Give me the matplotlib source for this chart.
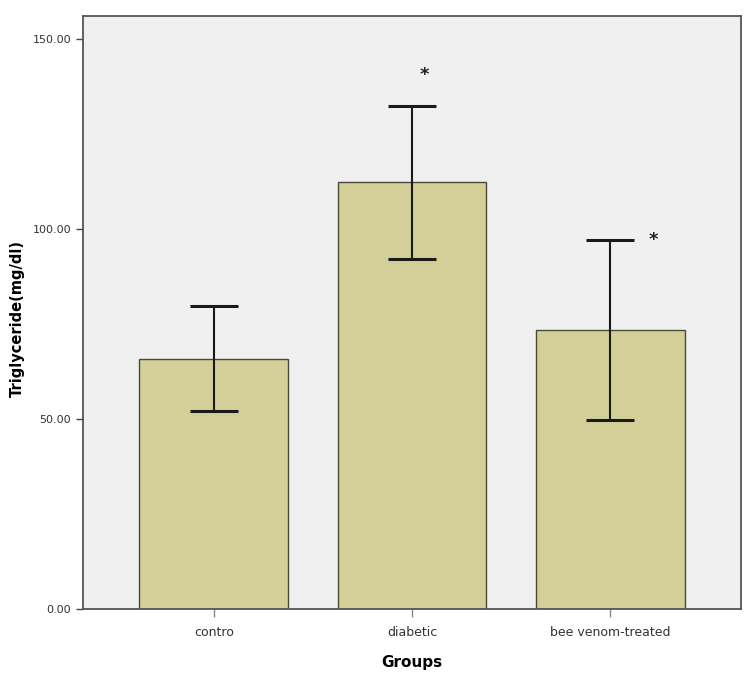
import matplotlib
matplotlib.use("Agg")
import matplotlib.pyplot as plt
import numpy as np

categories = ["contro", "diabetic", "bee venom-treated"]
means = [65.8, 112.2, 73.5]
errors = [13.8, 20.2, 23.7]
yticks = [0, 50, 100, 150]
ytick_labels = ["0.00", "50.00", "100.00", "150.00"]
stars = ["", "*", "*"]

fig = plt.figure(figsize=(7.47, 6.80), dpi=100)
ax = fig.add_axes([83/747, 1 - 609/680, (741-83)/747, (609-16)/680])
ax.set_facecolor("#f0f0f0")
x = np.arange(len(categories))
ax.bar(x, means, width=0.75, color="#d4cf98", edgecolor="#4a4838", linewidth=1.0, zorder=2)
ax.errorbar(x, means, yerr=errors, fmt="none", ecolor="#1a1a1a", elinewidth=1.5,
            capsize=17, capthick=2.2, zorder=3)
# stars
ax.text(x[1] + 0.06, means[1] + errors[1] + 8, stars[1], ha="center", va="center",
        fontsize=13, fontweight="bold", color="#222222")
ax.text(x[2] + 0.22, means[2] + errors[2], stars[2], ha="center", va="center",
        fontsize=13, fontweight="bold", color="#222222")

ax.set_xlim(-0.66, 2.66)
ax.set_ylim(0, 156)
ax.set_yticks(yticks)
ax.set_yticklabels(ytick_labels, fontsize=8, color="#333333")
ax.set_xticks(x)
ax.set_xticklabels(categories, fontsize=9, color="#333333")
ax.tick_params(axis="y", length=5, width=1.0, color="#444444")
ax.tick_params(axis="x", length=6, width=1.0, color="#888888", pad=6)
for s in ax.spines.values():
    s.set_color("#555555")
    s.set_linewidth(1.3)
ax.set_ylabel("Triglyceride(mg/dl)", fontsize=10.5, fontweight="bold")
ax.yaxis.set_label_coords(-0.088, 0.49)
ax.set_xlabel("Groups", fontsize=11, fontweight="bold", labelpad=12)
fig.savefig("out.png", dpi=100)
